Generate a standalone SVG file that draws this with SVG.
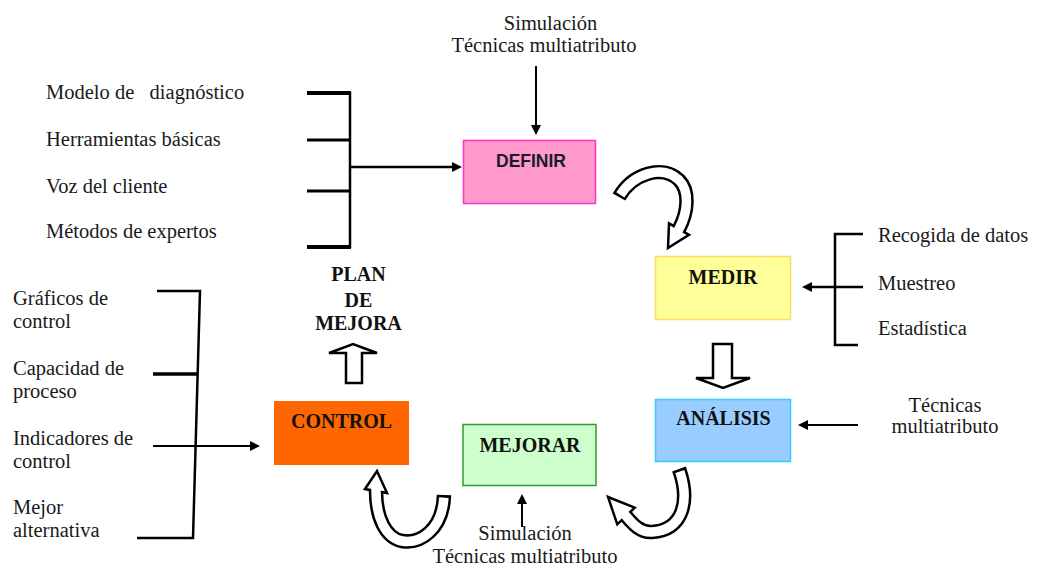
<svg xmlns="http://www.w3.org/2000/svg" width="1041" height="568" viewBox="0 0 1041 568">
<defs>
<style>
.t{font-family:"Liberation Serif","Times New Roman",serif;font-size:20.5px;fill:#1a1a1a}
.b{font-family:"Liberation Serif","Times New Roman",serif;font-size:20px;font-weight:bold;fill:#111;text-anchor:middle}
.c{text-anchor:middle}
.ln{stroke:#000;stroke-width:2;fill:none}
.br{stroke:#000;stroke-width:2.5;fill:none}
.tk{stroke:#000;stroke-width:4}
.tm{stroke:#000;stroke-width:3}
.cb{stroke:#000;stroke-width:14.5;fill:none}
.cw{stroke:#fff;stroke-width:9.5;fill:none;stroke-dasharray:2000 2.5;stroke-dashoffset:2000}
.ch{fill:#fff;stroke:#000;stroke-width:2.5;stroke-linejoin:miter}
.ba{fill:#fff;stroke:#000;stroke-width:2.5}
</style>
<marker id="ah" markerWidth="10" markerHeight="10" refX="0" refY="5" orient="auto" markerUnits="userSpaceOnUse">
<path d="M0,0 L10,5 L0,10 z" fill="#000"/>
</marker>
</defs>
<rect width="1041" height="568" fill="#fff"/>

<g id="definir">
<rect x="463.5" y="140.5" width="132" height="63" fill="#FF99CC" stroke="#FF33CC" stroke-width="1.5"/>
<text x="531" y="167" style="font-family:'Liberation Sans',Arial,sans-serif;font-size:17.5px;font-weight:bold;fill:#1a1a2a;text-anchor:middle">DEFINIR</text>
</g>
<g id="medir">
<rect x="655.5" y="256.5" width="135" height="63" fill="#FFFF99" stroke="#FFD966" stroke-width="1.5"/>
<text class="b" x="723" y="284">MEDIR</text>
</g>
<g id="analisis">
<rect x="655.5" y="399.5" width="135" height="62" fill="#99CCFF" stroke="#33CCFF" stroke-width="1.5"/>
<text class="b" x="723.5" y="425">ANÁLISIS</text>
</g>
<g id="mejorar">
<rect x="463" y="424.5" width="133" height="61" fill="#CCFFCC" stroke="#339933" stroke-width="1.5"/>
<text class="b" x="530" y="452">MEJORAR</text>
</g>
<g id="control">
<rect x="274" y="401" width="135" height="64" fill="#FF6600"/>
<text class="b" x="341.5" y="428">CONTROL</text>
</g>
<g id="plan">
<text class="b" x="358.5" y="281">PLAN</text>
<text class="b" x="358.5" y="307">DE</text>
<text class="b" x="358.5" y="330">MEJORA</text>
</g>

<g id="labels-top">
<text class="t c" x="550.5" y="30">Simulación</text>
<text class="t c" x="544" y="52">Técnicas multiatributo</text>
</g>
<g id="labels-left-top">
<text class="t" x="46" y="99" style="white-space:pre">Modelo de   diagnóstico</text>
<text class="t" x="46" y="146">Herramientas básicas</text>
<text class="t" x="46" y="193">Voz del cliente</text>
<text class="t" x="46" y="238">Métodos de expertos</text>
</g>
<g id="labels-left-bottom">
<text class="t" x="13" y="305">Gráficos de</text>
<text class="t" x="13" y="328">control</text>
<text class="t" x="13" y="375">Capacidad de</text>
<text class="t" x="13" y="398">proceso</text>
<text class="t" x="13" y="445">Indicadores de</text>
<text class="t" x="13" y="468">control</text>
<text class="t" x="13" y="514">Mejor</text>
<text class="t" x="13" y="537">alternativa</text>
</g>
<g id="labels-right">
<text class="t" x="878" y="242">Recogida de datos</text>
<text class="t" x="878" y="290">Muestreo</text>
<text class="t" x="878" y="335">Estadística</text>
<text class="t c" x="945" y="412">Técnicas</text>
<text class="t c" x="945" y="433">multiatributo</text>
</g>
<g id="labels-bottom">
<text class="t c" x="525" y="540">Simulación</text>
<text class="t c" x="525" y="563">Técnicas multiatributo</text>
</g>

<g id="connectors">
<line class="br" x1="350" y1="92" x2="350" y2="248"/>
<line class="tk" x1="307" y1="93" x2="351" y2="93"/>
<line class="tm" x1="307" y1="140" x2="351" y2="140"/>
<line class="tm" x1="307" y1="191" x2="351" y2="191"/>
<line class="tk" x1="307" y1="247" x2="351" y2="247"/>
<polyline class="br" points="157,291 200,291 193,538 137,538"/>
<line class="tm" x1="153" y1="374" x2="198" y2="374" style="stroke-width:3.5"/>
<polyline class="br" points="863,234 835,234 835,345 858,345"/>
<line class="ln" x1="536" y1="66" x2="536" y2="125" marker-end="url(#ah)"/>
<line class="ln" x1="350" y1="167" x2="452" y2="167" marker-end="url(#ah)" style="stroke-width:2.5"/>
<line class="ln" x1="863" y1="287" x2="812" y2="287" marker-end="url(#ah)" style="stroke-width:2.5"/>
<line class="ln" x1="858" y1="425" x2="808" y2="425" marker-end="url(#ah)"/>
<line class="ln" x1="522" y1="527" x2="522" y2="504" marker-end="url(#ah)"/>
<line class="ln" x1="153" y1="446" x2="250" y2="446" marker-end="url(#ah)"/>
<polygon class="ba" points="713,344 732,344 732,378 750,378 723,388 696,378 713,378"/>
<polygon class="ba" points="346,383 362,383 362,353 377,353 353,344 329,353 346,353"/>
<g id="curve-definir-medir">
<path class="cb" d="M619 197 C632 174 662 164 679 180 C690 191 688 212 679 229 l-1 2"/>
<polygon class="ch" points="669,223.3 689,234.8 668,248"/>
<path class="cw" d="M619 197 C632 174 662 164 679 180 C690 191 688 212 679 229 l-1 2"/>
</g>
<g id="curve-analisis-mejorar">
<path class="cb" d="M679 469 C690 500 684 530 652 532 C640 533 632 523 626 516 l-1.3 -1.5"/>
<polygon class="ch" points="634.7,507.7 608,497 617.3,524.3"/>
<path class="cw" d="M679 469 C690 500 684 530 652 532 C640 533 632 523 626 516 l-1.3 -1.5"/>
</g>
<g id="curve-mejorar-control">
<path class="cb" d="M444 495 C443 530 420 544 402 541 C386 538 376 518 376 491 l0 -2"/>
<polygon class="ch" points="365,489 377,471 387,493"/>
<path class="cw" d="M444 495 C443 530 420 544 402 541 C386 538 376 518 376 491 l0 -2"/>
</g>
</g>
</svg>
